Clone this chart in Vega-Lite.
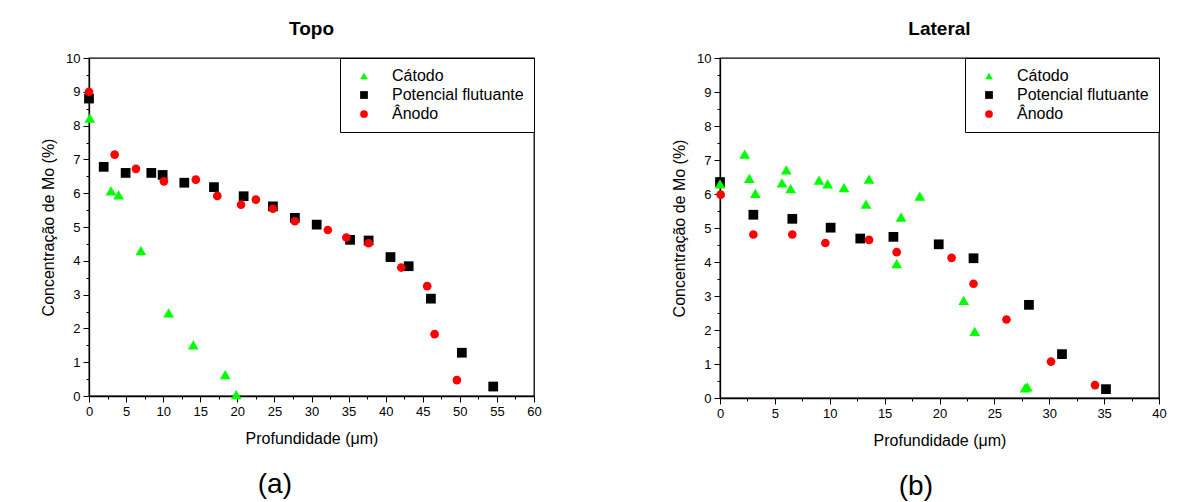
{
  "$schema": "https://vega.github.io/schema/vega-lite/v6.json",
  "background": "white",
  "padding": {"left": 39, "top": 19, "right": 0, "bottom": 0},
  "datasets": {
    "topo": [
      {"serie": "Potencial flutuante", "x": 0, "y": 8.8},
      {"serie": "Potencial flutuante", "x": 1.98, "y": 6.78},
      {"serie": "Potencial flutuante", "x": 4.94, "y": 6.6},
      {"serie": "Potencial flutuante", "x": 8.4, "y": 6.6},
      {"serie": "Potencial flutuante", "x": 9.93, "y": 6.54},
      {"serie": "Potencial flutuante", "x": 12.85, "y": 6.31},
      {"serie": "Potencial flutuante", "x": 16.85, "y": 6.18},
      {"serie": "Potencial flutuante", "x": 20.85, "y": 5.91},
      {"serie": "Potencial flutuante", "x": 24.8, "y": 5.61},
      {"serie": "Potencial flutuante", "x": 27.76, "y": 5.27},
      {"serie": "Potencial flutuante", "x": 30.7, "y": 5.07},
      {"serie": "Potencial flutuante", "x": 35.2, "y": 4.62},
      {"serie": "Potencial flutuante", "x": 37.7, "y": 4.6},
      {"serie": "Potencial flutuante", "x": 40.65, "y": 4.11},
      {"serie": "Potencial flutuante", "x": 43.1, "y": 3.84},
      {"serie": "Potencial flutuante", "x": 46.1, "y": 2.88},
      {"serie": "Potencial flutuante", "x": 50.27, "y": 1.28},
      {"serie": "Potencial flutuante", "x": 54.5, "y": 0.28},
      {"serie": "Ânodo", "x": 0, "y": 9.0},
      {"serie": "Ânodo", "x": 3.46, "y": 7.14},
      {"serie": "Ânodo", "x": 6.33, "y": 6.72},
      {"serie": "Ânodo", "x": 10.1, "y": 6.35},
      {"serie": "Ânodo", "x": 14.4, "y": 6.4},
      {"serie": "Ânodo", "x": 17.3, "y": 5.92},
      {"serie": "Ânodo", "x": 20.5, "y": 5.66},
      {"serie": "Ânodo", "x": 22.5, "y": 5.81},
      {"serie": "Ânodo", "x": 24.8, "y": 5.54},
      {"serie": "Ânodo", "x": 27.76, "y": 5.17},
      {"serie": "Ânodo", "x": 32.2, "y": 4.91},
      {"serie": "Ânodo", "x": 34.7, "y": 4.69},
      {"serie": "Ânodo", "x": 37.7, "y": 4.52},
      {"serie": "Ânodo", "x": 42.1, "y": 3.8},
      {"serie": "Ânodo", "x": 45.6, "y": 3.25},
      {"serie": "Ânodo", "x": 46.6, "y": 1.83},
      {"serie": "Ânodo", "x": 49.6, "y": 0.47},
      {"serie": "Cátodo", "x": 0.1, "y": 8.22},
      {"serie": "Cátodo", "x": 2.96, "y": 6.07},
      {"serie": "Cátodo", "x": 4.0, "y": 5.95},
      {"serie": "Cátodo", "x": 7.0, "y": 4.3},
      {"serie": "Cátodo", "x": 10.74, "y": 2.46},
      {"serie": "Cátodo", "x": 14.06, "y": 1.51},
      {"serie": "Cátodo", "x": 18.37, "y": 0.63},
      {"serie": "Cátodo", "x": 19.85, "y": 0.04}
    ],
    "lateral": [
      {"serie": "Potencial flutuante", "x": 0, "y": 6.35},
      {"serie": "Potencial flutuante", "x": 3.04, "y": 5.39},
      {"serie": "Potencial flutuante", "x": 6.59, "y": 5.27},
      {"serie": "Potencial flutuante", "x": 10.08, "y": 5.01},
      {"serie": "Potencial flutuante", "x": 12.78, "y": 4.69},
      {"serie": "Potencial flutuante", "x": 15.8, "y": 4.74},
      {"serie": "Potencial flutuante", "x": 19.93, "y": 4.52},
      {"serie": "Potencial flutuante", "x": 23.1, "y": 4.11},
      {"serie": "Potencial flutuante", "x": 28.15, "y": 2.74},
      {"serie": "Potencial flutuante", "x": 31.16, "y": 1.29},
      {"serie": "Potencial flutuante", "x": 35.17, "y": 0.26},
      {"serie": "Ânodo", "x": 0.06, "y": 5.98},
      {"serie": "Ânodo", "x": 3.04, "y": 4.81},
      {"serie": "Ânodo", "x": 6.59, "y": 4.81},
      {"serie": "Ânodo", "x": 9.6, "y": 4.56},
      {"serie": "Ânodo", "x": 13.58, "y": 4.65},
      {"serie": "Ânodo", "x": 16.1, "y": 4.29},
      {"serie": "Ânodo", "x": 21.1, "y": 4.12},
      {"serie": "Ânodo", "x": 23.1, "y": 3.36},
      {"serie": "Ânodo", "x": 26.1, "y": 2.31},
      {"serie": "Ânodo", "x": 30.16, "y": 1.07},
      {"serie": "Ânodo", "x": 34.17, "y": 0.38},
      {"serie": "Cátodo", "x": 0, "y": 6.3},
      {"serie": "Cátodo", "x": 2.25, "y": 7.17},
      {"serie": "Cátodo", "x": 2.67, "y": 6.46},
      {"serie": "Cátodo", "x": 3.22, "y": 6.02},
      {"serie": "Cátodo", "x": 5.65, "y": 6.33},
      {"serie": "Cátodo", "x": 6.04, "y": 6.71},
      {"serie": "Cátodo", "x": 6.44, "y": 6.16},
      {"serie": "Cátodo", "x": 9.02, "y": 6.41},
      {"serie": "Cátodo", "x": 9.81, "y": 6.3},
      {"serie": "Cátodo", "x": 11.3, "y": 6.19},
      {"serie": "Cátodo", "x": 13.3, "y": 5.7},
      {"serie": "Cátodo", "x": 13.58, "y": 6.44},
      {"serie": "Cátodo", "x": 16.1, "y": 3.95},
      {"serie": "Cátodo", "x": 16.5, "y": 5.32},
      {"serie": "Cátodo", "x": 18.2, "y": 5.94},
      {"serie": "Cátodo", "x": 22.2, "y": 2.87},
      {"serie": "Cátodo", "x": 23.2, "y": 1.96},
      {"serie": "Cátodo", "x": 27.8, "y": 0.3},
      {"serie": "Cátodo", "x": 28.0, "y": 0.33}
    ]
  },
  "config": {
    "font": "Liberation Sans",
    "view": {"stroke": "black", "strokeWidth": 1.3},
    "axis": {
      "grid": false,
      "domainColor": "black",
      "domainWidth": 1.3,
      "tickColor": "black",
      "labelColor": "black",
      "titleColor": "black",
      "labelFont": "Liberation Sans",
      "titleFont": "Liberation Sans",
      "labelFontSize": 13,
      "titleFontSize": 16,
      "titleFontWeight": "normal",
      "labelOverlap": false,
      "labelFlush": false,
      "labelPadding": 3
    },
    "legend": {
      "orient": "top-right",
      "offset": 0,
      "strokeColor": "black",
      "strokeWidth": 1,
      "fillColor": "white",
      "padding": 10,
      "labelFont": "Liberation Sans",
      "labelFontSize": 16,
      "labelColor": "black",
      "symbolSize": 60,
      "rowPadding": 3,
      "labelOffset": 20,
      "symbolOffset": 6,
      "cornerRadius": 0,
      "labelLimit": 300
    },
    "title": {"font": "Liberation Sans", "color": "black"}
  },
  "spacing": 128,
  "hconcat": [
    {
      "title": {"text": "(a)", "orient": "bottom", "anchor": "middle", "fontSize": 28, "fontWeight": "normal", "offset": 24, "dx": -16},
      "resolve": {"legend": {"color": "independent", "shape": "independent"}},
      "vconcat": [
        {
          "title": {"text": "Topo", "fontSize": 19, "fontWeight": "bold", "offset": 13},
          "width": 445,
          "height": 338,
          "data": {"name": "topo"},
          "mark": {"type": "point", "filled": true, "opacity": 1},
          "encoding": {
            "x": {
              "field": "x", "type": "quantitative",
              "scale": {"domain": [0, 60], "nice": false, "zero": false},
              "axis": {
                "title": "Profundidade (μm)",
                "titlePadding": 12,
                "values": [0, 2.5, 5, 7.5, 10, 12.5, 15, 17.5, 20, 22.5, 25, 27.5, 30, 32.5, 35, 37.5, 40, 42.5, 45, 47.5, 50, 52.5, 55, 57.5, 60],
                "labelExpr": "datum.value % 5 === 0 ? format(datum.value, 'd') : ''",
                "tickSize": {"condition": {"test": "datum.value % 5 === 0", "value": 6}, "value": 3}
              }
            },
            "y": {
              "field": "y", "type": "quantitative",
              "scale": {"domain": [0, 10], "nice": false},
              "axis": {
                "title": "Concentração de Mo (%)",
                "titlePadding": 9,
                "values": [0, 0.5, 1, 1.5, 2, 2.5, 3, 3.5, 4, 4.5, 5, 5.5, 6, 6.5, 7, 7.5, 8, 8.5, 9, 9.5, 10],
                "labelExpr": "datum.value % 1 === 0 ? format(datum.value, 'd') : ''",
                "tickSize": {"condition": {"test": "datum.value % 1 === 0", "value": 6}, "value": 3}
              }
            },
            "color": {
              "field": "serie", "type": "nominal",
              "scale": {"domain": ["Cátodo", "Potencial flutuante", "Ânodo"], "range": ["#00ff00", "#000000", "#ff0000"]},
              "legend": {"title": null, "orient": "top-right"}
            },
            "shape": {
              "field": "serie", "type": "nominal",
              "scale": {"domain": ["Cátodo", "Potencial flutuante", "Ânodo"], "range": ["triangle-up", "square", "circle"]},
              "legend": {"title": null, "orient": "top-right"}
            },
            "size": {
              "field": "serie", "type": "nominal",
              "scale": {"domain": ["Cátodo", "Potencial flutuante", "Ânodo"], "range": [115, 75, 80]},
              "legend": null
            }
          }
        }
      ]
    },
    {
      "title": {"text": "(b)", "orient": "bottom", "anchor": "middle", "fontSize": 28, "fontWeight": "normal", "offset": 24, "dx": -3},
      "resolve": {"legend": {"color": "independent", "shape": "independent"}},
      "vconcat": [
        {
          "title": {"text": "Lateral", "fontSize": 19, "fontWeight": "bold", "offset": 13},
          "width": 439,
          "height": 340,
          "data": {"name": "lateral"},
          "mark": {"type": "point", "filled": true, "opacity": 1},
          "encoding": {
            "x": {
              "field": "x", "type": "quantitative",
              "scale": {"domain": [0, 40], "nice": false, "zero": false},
              "axis": {
                "title": "Profundidade (μm)",
                "titlePadding": 12,
                "values": [0, 2.5, 5, 7.5, 10, 12.5, 15, 17.5, 20, 22.5, 25, 27.5, 30, 32.5, 35, 37.5, 40],
                "labelExpr": "datum.value % 5 === 0 ? format(datum.value, 'd') : ''",
                "tickSize": {"condition": {"test": "datum.value % 5 === 0", "value": 6}, "value": 3}
              }
            },
            "y": {
              "field": "y", "type": "quantitative",
              "scale": {"domain": [0, 10], "nice": false},
              "axis": {
                "title": "Concentração de Mo (%)",
                "titlePadding": 9,
                "values": [0, 0.5, 1, 1.5, 2, 2.5, 3, 3.5, 4, 4.5, 5, 5.5, 6, 6.5, 7, 7.5, 8, 8.5, 9, 9.5, 10],
                "labelExpr": "datum.value % 1 === 0 ? format(datum.value, 'd') : ''",
                "tickSize": {"condition": {"test": "datum.value % 1 === 0", "value": 6}, "value": 3}
              }
            },
            "color": {
              "field": "serie", "type": "nominal",
              "scale": {"domain": ["Cátodo", "Potencial flutuante", "Ânodo"], "range": ["#00ff00", "#000000", "#ff0000"]},
              "legend": {"title": null, "orient": "top-right"}
            },
            "shape": {
              "field": "serie", "type": "nominal",
              "scale": {"domain": ["Cátodo", "Potencial flutuante", "Ânodo"], "range": ["triangle-up", "square", "circle"]},
              "legend": {"title": null, "orient": "top-right"}
            },
            "size": {
              "field": "serie", "type": "nominal",
              "scale": {"domain": ["Cátodo", "Potencial flutuante", "Ânodo"], "range": [115, 75, 80]},
              "legend": null
            }
          }
        }
      ]
    }
  ],
  "resolve": {
    "scale": {"x": "independent", "y": "independent", "color": "independent", "shape": "independent", "size": "independent"},
    "legend": {"color": "independent", "shape": "independent"}
  }
}
